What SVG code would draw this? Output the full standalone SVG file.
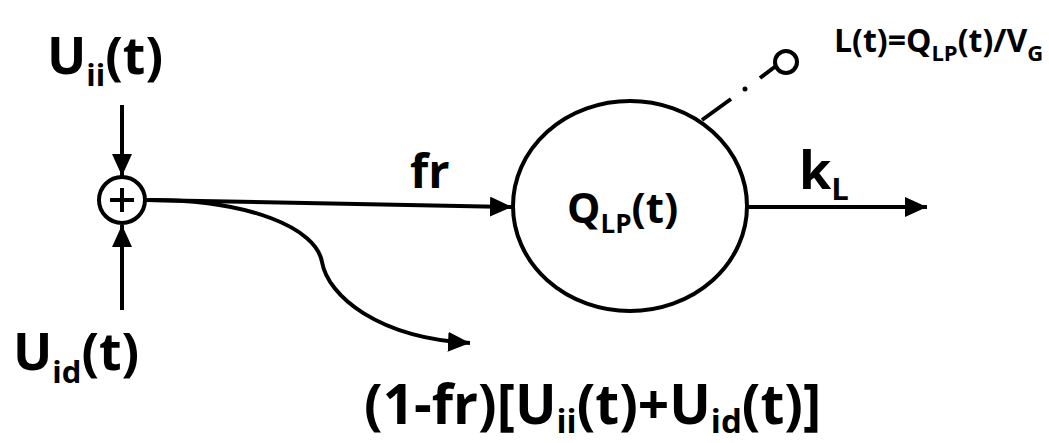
<svg xmlns="http://www.w3.org/2000/svg" width="1049" height="443" viewBox="0 0 1049 443">
<style>
.t{font-family:"Open Sans","Liberation Sans",sans-serif;font-weight:700;fill:#000}
.ln{stroke:#000;stroke-width:4;fill:none}
</style>
<defs>
<marker id="ah" viewBox="0 0 22 20" markerWidth="22" markerHeight="20" refX="22" refY="10" orient="auto" markerUnits="userSpaceOnUse">
<path d="M0,0 L22,10 L0,20 z" fill="#000"/>
</marker>
</defs>
<rect width="1049" height="443" fill="#fff"/>
<g id="connectors">
<line class="ln" x1="122" y1="105" x2="122" y2="176" marker-end="url(#ah)"/>
<line class="ln" x1="122" y1="310" x2="122" y2="225" marker-end="url(#ah)"/>
<line class="ln" x1="145" y1="200" x2="512" y2="207" marker-end="url(#ah)"/>
<path class="ln" d="M150 200 C250 200 316 228 322 262 S378 338 470 343" marker-end="url(#ah)"/>
<line class="ln" x1="748" y1="207" x2="927" y2="207" marker-end="url(#ah)"/>
<line class="ln" x1="702" y1="120" x2="731" y2="99"/>
<circle cx="745" cy="89" r="2.5" fill="#000"/>
<line class="ln" x1="760" y1="78" x2="776" y2="66"/>
</g>
<g id="sum">
<circle class="ln" cx="122" cy="200" r="23"/>
<line class="ln" x1="110" y1="200" x2="134" y2="200" stroke-width="3"/>
<line class="ln" x1="122" y1="188" x2="122" y2="212" stroke-width="3"/>
</g>
<g id="reservoir">
<ellipse class="ln" cx="630" cy="206" rx="117" ry="105" stroke-width="5"/>
<text class="t" x="567" y="223" font-size="42">Q<tspan font-size="26" dy="10">LP</tspan><tspan dy="-10">(t)</tspan></text>
</g>
<g id="probe">
<circle class="ln" cx="786" cy="62" r="11"/>
<text class="t" x="834" y="52" font-size="32">L(t)=Q<tspan font-size="22" dy="9">LP</tspan><tspan dy="-9">(t)/V</tspan><tspan font-size="22" dy="9">G</tspan></text>
</g>
<g id="labels">
<text class="t" x="47" y="74" font-size="52">U<tspan font-size="31" dy="12">ii</tspan><tspan dy="-12">(t)</tspan></text>
<text class="t" x="13" y="370" font-size="52">U<tspan font-size="31" dy="13">id</tspan><tspan dy="-13">(t)</tspan></text>
<text class="t" x="410" y="188" font-size="47">fr</text>
<text class="t" x="799" y="189" font-size="52">k<tspan font-size="31" dy="11">L</tspan></text>
<text class="t" x="364" y="424" font-size="55">(1-fr)[U<tspan font-size="33" dy="9">ii</tspan><tspan dy="-9">(t)+U</tspan><tspan font-size="33" dy="9">id</tspan><tspan dy="-9">(t)]</tspan></text>
</g>
</svg>
